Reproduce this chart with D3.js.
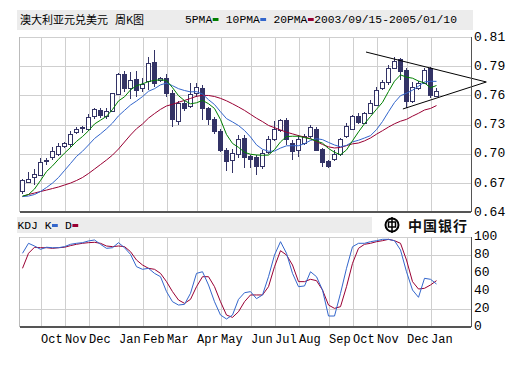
<!DOCTYPE html>
<html>
<head>
<meta charset="utf-8">
<script src="https://cdnjs.cloudflare.com/ajax/libs/d3/7.8.5/d3.min.js"></script>
<style>
body { margin: 0; background: #fff; }
svg { display: block; }
text { white-space: pre; }
</style>
</head>
<body>
<svg id="canvas"></svg>
<script>
// weekly bars, 2003/09/15 - 2005/01/10
let weeks = d3.timeMonday.range(new Date(2003, 8, 15), new Date(2005, 0, 11))

let monthLabels = ['Oct', 'Nov', 'Dec', 'Jan', 'Feb', 'Mar', 'Apr', 'May', 'Jun', 'Jul', 'Aug', 'Sep', 'Oct', 'Nov', 'Dec', 'Jan']
let priceTickLabels = ['0.64', '0.67', '0.70', '0.73', '0.76', '0.79', '0.81']
let kdjTickLabels = ['0', '20', '40', '60', '80', '100']

let openPrices = [0.6597, 0.6691, 0.6740, 0.6759, 0.6886, 0.6925, 0.6957, 0.7034, 0.7051, 0.7170,
    0.7221, 0.7197, 0.7326, 0.7388, 0.7330, 0.7374, 0.7543, 0.7738, 0.7595, 0.7692,
    0.7602, 0.7666, 0.7854, 0.7673, 0.7699, 0.7553, 0.7284, 0.7456, 0.7423, 0.7553,
    0.7595, 0.7401, 0.7294, 0.7180, 0.7002, 0.6905, 0.6954, 0.7116, 0.6937, 0.6925,
    0.6840, 0.6976, 0.7100, 0.7190, 0.7287, 0.7067, 0.7002, 0.7067, 0.7132, 0.7203,
    0.7009, 0.6889, 0.6912, 0.6954, 0.7132, 0.7203, 0.7326, 0.7262, 0.7359, 0.7439,
    0.7595, 0.7660, 0.7796, 0.7877, 0.7779, 0.7472, 0.7595, 0.7650, 0.7796, 0.7520]
let highPrices = [0.6721, 0.6789, 0.6818, 0.6925, 0.6925, 0.7031, 0.7070, 0.7083, 0.7187, 0.7229,
    0.7235, 0.7349, 0.7413, 0.7407, 0.7407, 0.7559, 0.7753, 0.7773, 0.7763, 0.7770,
    0.7699, 0.7909, 0.7974, 0.7714, 0.7738, 0.7585, 0.7478, 0.7488, 0.7650, 0.7650,
    0.7634, 0.7420, 0.7323, 0.7206, 0.7019, 0.7009, 0.7148, 0.7148, 0.6954, 0.6954,
    0.7002, 0.7138, 0.7287, 0.7301, 0.7310, 0.7100, 0.7148, 0.7158, 0.7245, 0.7223,
    0.7022, 0.6905, 0.7002, 0.7116, 0.7262, 0.7342, 0.7359, 0.7374, 0.7488, 0.7617,
    0.7682, 0.7828, 0.7906, 0.7893, 0.7796, 0.7663, 0.7673, 0.7796, 0.7812, 0.7602]
let lowPrices = [0.6575, 0.6682, 0.6662, 0.6750, 0.6857, 0.6905, 0.6944, 0.7022, 0.7031, 0.7158,
    0.7167, 0.7187, 0.7303, 0.7310, 0.7303, 0.7371, 0.7537, 0.7566, 0.7498, 0.7520,
    0.7569, 0.7585, 0.7617, 0.7660, 0.7520, 0.7229, 0.7245, 0.7381, 0.7407, 0.7520,
    0.7294, 0.7245, 0.7158, 0.6986, 0.6801, 0.6776, 0.6922, 0.6825, 0.6825, 0.6760,
    0.6815, 0.6963, 0.7090, 0.7177, 0.7051, 0.6905, 0.6937, 0.7051, 0.7119, 0.6993,
    0.6840, 0.6825, 0.6896, 0.6944, 0.7119, 0.7197, 0.7255, 0.7255, 0.7352, 0.7430,
    0.7585, 0.7634, 0.7789, 0.7682, 0.7407, 0.7459, 0.7585, 0.7643, 0.7505, 0.7517]
let closePrices = [0.6708, 0.6716, 0.6769, 0.6879, 0.6896, 0.6983, 0.7034, 0.7067, 0.7151, 0.7197,
    0.7216, 0.7316, 0.7398, 0.7336, 0.7381, 0.7553, 0.7731, 0.7595, 0.7673, 0.7585,
    0.7643, 0.7845, 0.7650, 0.7699, 0.7553, 0.7294, 0.7456, 0.7407, 0.7543, 0.7607,
    0.7407, 0.7294, 0.7180, 0.7002, 0.6886, 0.6970, 0.7106, 0.6934, 0.6912, 0.6840,
    0.6970, 0.7106, 0.7203, 0.7287, 0.7100, 0.6986, 0.7106, 0.7138, 0.7223, 0.7002,
    0.6879, 0.6840, 0.6954, 0.7106, 0.7235, 0.7326, 0.7268, 0.7359, 0.7456, 0.7585,
    0.7660, 0.7796, 0.7860, 0.7763, 0.7472, 0.7614, 0.7653, 0.7770, 0.7530, 0.7575]

let ma5 = [0.6555, 0.6570, 0.6623, 0.6706, 0.6793, 0.6848, 0.6912, 0.6972, 0.7026, 0.7086,
    0.7133, 0.7189, 0.7255, 0.7292, 0.7329, 0.7396, 0.7479, 0.7519, 0.7586, 0.7627,
    0.7645, 0.7667, 0.7679, 0.7684, 0.7678, 0.7608, 0.7530, 0.7482, 0.7451, 0.7461,
    0.7484, 0.7452, 0.7406, 0.7298, 0.7153, 0.7066, 0.7028, 0.6980, 0.6961, 0.6954,
    0.6951, 0.6953, 0.7006, 0.7081, 0.7133, 0.7136, 0.7136, 0.7123, 0.7110, 0.7090,
    0.7069, 0.7017, 0.6980, 0.6956, 0.7003, 0.7092, 0.7178, 0.7258, 0.7328, 0.7398,
    0.7465, 0.7571, 0.7671, 0.7732, 0.7710, 0.7700, 0.7672, 0.7654, 0.7607, 0.7629]
let ma10 = [0.6550, 0.6555, 0.6570, 0.6599, 0.6638, 0.6681, 0.6735, 0.6803, 0.6871, 0.6940,
    0.6990, 0.7051, 0.7114, 0.7159, 0.7208, 0.7264, 0.7334, 0.7387, 0.7439, 0.7478,
    0.7521, 0.7573, 0.7598, 0.7635, 0.7652, 0.7627, 0.7598, 0.7580, 0.7567, 0.7569,
    0.7546, 0.7491, 0.7444, 0.7374, 0.7307, 0.7275, 0.7240, 0.7192, 0.7129, 0.7052,
    0.7009, 0.6990, 0.6992, 0.7021, 0.7043, 0.7044, 0.7044, 0.7064, 0.7095, 0.7112,
    0.7103, 0.7076, 0.7051, 0.7033, 0.7047, 0.7081, 0.7097, 0.7119, 0.7142, 0.7200,
    0.7279, 0.7374, 0.7464, 0.7530, 0.7554, 0.7583, 0.7622, 0.7663, 0.7670, 0.7669]
let ma20 = [0.6550, 0.6570, 0.6584, 0.6599, 0.6613, 0.6628, 0.6643, 0.6662, 0.6681, 0.6706,
    0.6735, 0.6774, 0.6817, 0.6861, 0.6905, 0.6953, 0.7012, 0.7080, 0.7148, 0.7209,
    0.7255, 0.7312, 0.7356, 0.7397, 0.7430, 0.7446, 0.7466, 0.7484, 0.7503, 0.7524,
    0.7533, 0.7532, 0.7522, 0.7504, 0.7480, 0.7451, 0.7420, 0.7387, 0.7349, 0.7311,
    0.7278, 0.7241, 0.7219, 0.7197, 0.7175, 0.7159, 0.7142, 0.7128, 0.7113, 0.7083,
    0.7056, 0.7033, 0.7022, 0.7027, 0.7045, 0.7062, 0.7070, 0.7091, 0.7119, 0.7156,
    0.7190, 0.7225, 0.7257, 0.7282, 0.7300, 0.7331, 0.7359, 0.7391, 0.7406, 0.7434]

let kValues = [81.9, 93.0, 90.0, 86.3, 88.6, 88.1, 88.1, 89.3, 91.9, 93.0,
    93.7, 95.6, 96.7, 91.9, 87.4, 88.1, 93.7, 88.1, 80.7, 67.0,
    64.1, 65.2, 59.6, 55.9, 39.3, 28.1, 24.4, 25.2, 37.4, 59.6,
    61.4, 46.7, 28.1, 13.3, 8.9, 13.3, 30.7, 38.1, 39.3, 31.5,
    35.6, 55.9, 80.0, 94.8, 81.9, 59.6, 44.8, 45.6, 61.4, 55.9,
    41.1, 12.2, 12.2, 37.4, 65.2, 89.2, 93.0, 93.0, 94.8, 95.9,
    97.4, 97.4, 95.9, 85.6, 61.4, 41.1, 33.0, 54.1, 53.0, 47.8]
let dValues = [65.2, 81.9, 88.6, 88.1, 88.1, 87.4, 88.1, 88.6, 90.4, 91.9,
    93.0, 93.7, 94.1, 93.0, 90.0, 89.3, 90.0, 89.3, 83.7, 74.4,
    68.9, 65.2, 64.1, 59.6, 50.4, 39.3, 30.0, 26.3, 30.7, 44.8,
    55.9, 55.9, 44.8, 28.1, 13.3, 10.7, 17.0, 28.1, 35.6, 35.6,
    35.6, 44.8, 67.0, 84.8, 80.0, 68.9, 50.4, 50.4, 53.0, 51.5,
    41.1, 24.4, 20.7, 22.6, 44.8, 70.7, 87.4, 91.9, 93.0, 94.8,
    95.9, 97.4, 95.9, 93.0, 74.4, 50.4, 42.2, 43.0, 46.7, 51.5]

// hand drawn triangle: [week index, price]
let trendUpper = [[57.25, 0.7954], [77.3, 0.7663]]
let trendLower = [[63.4, 0.7401], [77.3, 0.7663]]

let width = 512
let height = 384
let left = 19.5
let right = 471
let priceTop = 37
let priceBottom = 212
let kdjTop = 237
let kdjBottom = 327

let navy = '#333366'
let gridColor = '#cfcfcf'
let green = '#008000'
let blue = '#3366cc'
let red = '#990033'
let mono = '"Liberation Mono", "DejaVu Sans Mono", monospace'
let cjk = '"Noto Sans CJK SC", sans-serif'

let canvas = d3.select('#canvas')
canvas.attr('width', width)
canvas.attr('height', height)

canvas.append('rect').attr('width', width).attr('height', height).attr('fill', '#fff')

let xScale = d3.scaleLinear().domain([-0.5, 74.75]).range([left, right])
let yScale = d3.scaleLinear().domain([0.64, 0.81]).range([priceBottom, priceTop])
let kdjScale = d3.scaleLinear().domain([0, 100]).range([kdjBottom, kdjTop])

let priceTicks = d3.range(7).map(k => 0.64 + k * 0.17 / 6)
let kdjTicks = [0, 20, 40, 60, 80, 100]
let monthStarts = weeks.map((d, i) => i).filter(i => i > 0 && weeks[i].getMonth() != weeks[i - 1].getMonth())

let drawHeaders = () => {
    canvas.append('rect').attr('x', 17).attr('y', 10).attr('width', 456).attr('height', 20).attr('fill', '#ececec')
    canvas.append('rect').attr('x', 17).attr('y', 217).attr('width', 355).attr('height', 16).attr('fill', '#ececec')

    canvas.append('text').attr('x', 20).attr('y', 24)
        .style('font-family', cjk).style('font-size', '11px').attr('fill', '#000')
        .text('澳大利亚元兑美元')
    canvas.append('text').attr('x', 115).attr('y', 24)
        .style('font-family', cjk).style('font-size', '11px').attr('fill', '#000')
        .text('周K图')

    drawLegend(185, 23, ['5PMA', green, ' 10PMA', blue, ' 20PMA', red, '2003/09/15-2005/01/10'])
    drawLegend(17.5, 229, ['KDJ K', blue, ' D', red])

    // bank logo
    let logo = canvas.append('g').attr('stroke', '#000').attr('fill', 'none')
    logo.append('circle').attr('cx', 392).attr('cy', 225).attr('r', 6.5).attr('stroke-width', 2)
    logo.append('rect').attr('x', 388.5).attr('y', 222).attr('width', 7).attr('height', 5).attr('stroke-width', 1.5)
    logo.append('line').attr('x1', 392).attr('x2', 392).attr('y1', 217).attr('y2', 233).attr('stroke-width', 1.5)
    canvas.append('text').attr('x', 408).attr('y', 231)
        .style('font-family', cjk).style('font-size', '14px').style('font-weight', 'bold')
        .style('letter-spacing', '1px').attr('fill', '#111')
        .text('中国银行')
}

let drawLegend = (x, y, parts) => {
    let cw = 6.8
    let pos = 0
    parts.forEach(p => {
        if (p.startsWith('#')) {
            canvas.append('rect')
                .attr('x', x + pos * cw + 0.5).attr('y', y - 5)
                .attr('width', cw - 1).attr('height', 3)
                .attr('fill', p)
            pos += 1
        } else {
            canvas.append('text')
                .attr('x', x + pos * cw).attr('y', y)
                .style('font-family', mono).style('font-size', (cw / 0.6) + 'px')
                .attr('fill', '#000')
                .text(p)
            pos += p.length
        }
    })
}

let drawGrid = () => {
    // horizontal price grid
    canvas.append('g')
        .attr('class', 'grid')
        .attr('transform', 'translate(' + left + ',0)')
        .call(d3.axisLeft(yScale).tickValues(priceTicks).tickSize(-(right - left)).tickFormat(''))
    // horizontal kdj grid at 20 and 80
    canvas.append('g')
        .attr('class', 'grid')
        .attr('transform', 'translate(' + left + ',0)')
        .call(d3.axisLeft(kdjScale).tickValues([20, 80, 100]).tickSize(-(right - left)).tickFormat(''))
    // vertical month grid
    canvas.append('g')
        .attr('class', 'grid')
        .attr('transform', 'translate(0,' + priceBottom + ')')
        .call(d3.axisBottom(xScale).tickValues(monthStarts).tickSize(-(priceBottom - priceTop)).tickFormat(''))
    canvas.append('g')
        .attr('class', 'grid')
        .attr('transform', 'translate(0,' + kdjBottom + ')')
        .call(d3.axisBottom(xScale).tickValues(monthStarts).tickSize(-(kdjBottom - kdjTop)).tickFormat(''))

    canvas.selectAll('.grid .domain').remove()
    canvas.selectAll('.grid line')
        .attr('stroke', gridColor)
        .attr('shape-rendering', 'crispEdges')

    // left edges
    canvas.append('line').attr('x1', left).attr('x2', left).attr('y1', priceTop).attr('y2', priceBottom)
        .attr('stroke', '#bbb').attr('shape-rendering', 'crispEdges')
    canvas.append('line').attr('x1', left).attr('x2', left).attr('y1', kdjTop).attr('y2', kdjBottom)
        .attr('stroke', '#bbb').attr('shape-rendering', 'crispEdges')
}

let drawCandles = () => {
    let g = canvas.append('g').attr('shape-rendering', 'crispEdges')
    g.selectAll('line')
        .data(weeks)
        .enter()
        .append('line')
        .attr('x1', (d, i) => xScale(i))
        .attr('x2', (d, i) => xScale(i))
        .attr('y1', (d, i) => yScale(highPrices[i]))
        .attr('y2', (d, i) => yScale(lowPrices[i]))
        .attr('stroke', navy)
    g.selectAll('rect')
        .data(weeks)
        .enter()
        .append('rect')
        .attr('x', (d, i) => xScale(i) - 2)
        .attr('width', 4)
        .attr('y', (d, i) => yScale(Math.max(openPrices[i], closePrices[i])))
        .attr('height', (d, i) => Math.max(1, Math.abs(yScale(openPrices[i]) - yScale(closePrices[i]))))
        .attr('fill', (d, i) => closePrices[i] >= openPrices[i] ? '#fff' : navy)
        .attr('stroke', navy)
}

let drawLines = () => {
    let priceLine = d3.line().x((d, i) => xScale(i)).y(d => yScale(d))
    let kdjLine = d3.line().x((d, i) => xScale(i)).y(d => kdjScale(d))

    canvas.append('path').datum(ma20).attr('d', priceLine).attr('fill', 'none').attr('stroke', red).attr('stroke-width', 1)
    canvas.append('path').datum(ma10).attr('d', priceLine).attr('fill', 'none').attr('stroke', blue).attr('stroke-width', 1)
    canvas.append('path').datum(ma5).attr('d', priceLine).attr('fill', 'none').attr('stroke', green).attr('stroke-width', 1)

    canvas.append('path').datum(dValues).attr('d', kdjLine).attr('fill', 'none').attr('stroke', red).attr('stroke-width', 1)
    canvas.append('path').datum(kValues).attr('d', kdjLine).attr('fill', 'none').attr('stroke', blue).attr('stroke-width', 1)

    let trend = d3.line().x(d => xScale(d[0])).y(d => yScale(d[1]))
    canvas.append('path').datum(trendUpper).attr('d', trend).attr('stroke', '#000').attr('fill', 'none')
    canvas.append('path').datum(trendLower).attr('d', trend).attr('stroke', '#000').attr('fill', 'none')
}

let drawAxes = () => {
    let priceAxis = d3.axisRight(yScale)
        .tickValues(priceTicks)
        .tickFormat((d, i) => priceTickLabels[i])
        .tickSize(0)
        .tickPadding(3)
    let kdjAxis = d3.axisRight(kdjScale)
        .tickValues(kdjTicks)
        .tickFormat((d, i) => kdjTickLabels[i])
        .tickSize(0)
        .tickPadding(3)
    let monthAxis = d3.axisBottom(xScale)
        .tickValues(monthStarts)
        .tickFormat((d, i) => monthLabels[i])
        .tickSize(0)
        .tickPadding(0)

    canvas.append('g').attr('class', 'axis y-price')
        .attr('transform', 'translate(' + right + ',0)')
        .call(priceAxis)
    canvas.append('g').attr('class', 'axis y-kdj')
        .attr('transform', 'translate(' + right + ',0)')
        .call(kdjAxis)
    canvas.append('g').attr('class', 'axis x-month')
        .attr('transform', 'translate(0,' + kdjBottom + ')')
        .call(monthAxis)

    canvas.selectAll('.axis .domain').remove()
    canvas.selectAll('.axis text')
        .attr('fill', '#000')
        .style('font-family', mono)
    canvas.selectAll('.y-price text').style('font-size', '13px').attr('dy', '0.25em')
    canvas.selectAll('.y-kdj text').style('font-size', '13px').attr('dy', '0.17em')
    canvas.selectAll('.x-month text')
        .style('font-size', '12px')
        .attr('text-anchor', 'start')
        .attr('y', 15.5)
        .attr('dy', 0)

    // dark right and bottom frame
    let frame = canvas.append('g').attr('stroke', '#555').attr('shape-rendering', 'crispEdges')
    frame.append('line').attr('x1', right).attr('x2', right).attr('y1', priceTop).attr('y2', priceBottom)
    frame.append('line').attr('x1', left).attr('x2', right).attr('y1', priceBottom).attr('y2', priceBottom).attr('stroke-width', 2)
    frame.append('line').attr('x1', right).attr('x2', right).attr('y1', kdjTop).attr('y2', kdjBottom)
    frame.append('line').attr('x1', left).attr('x2', right).attr('y1', kdjBottom).attr('y2', kdjBottom).attr('stroke-width', 2)
}

drawHeaders()
drawGrid()
drawCandles()
drawLines()
drawAxes()
</script>
</body>
</html>
